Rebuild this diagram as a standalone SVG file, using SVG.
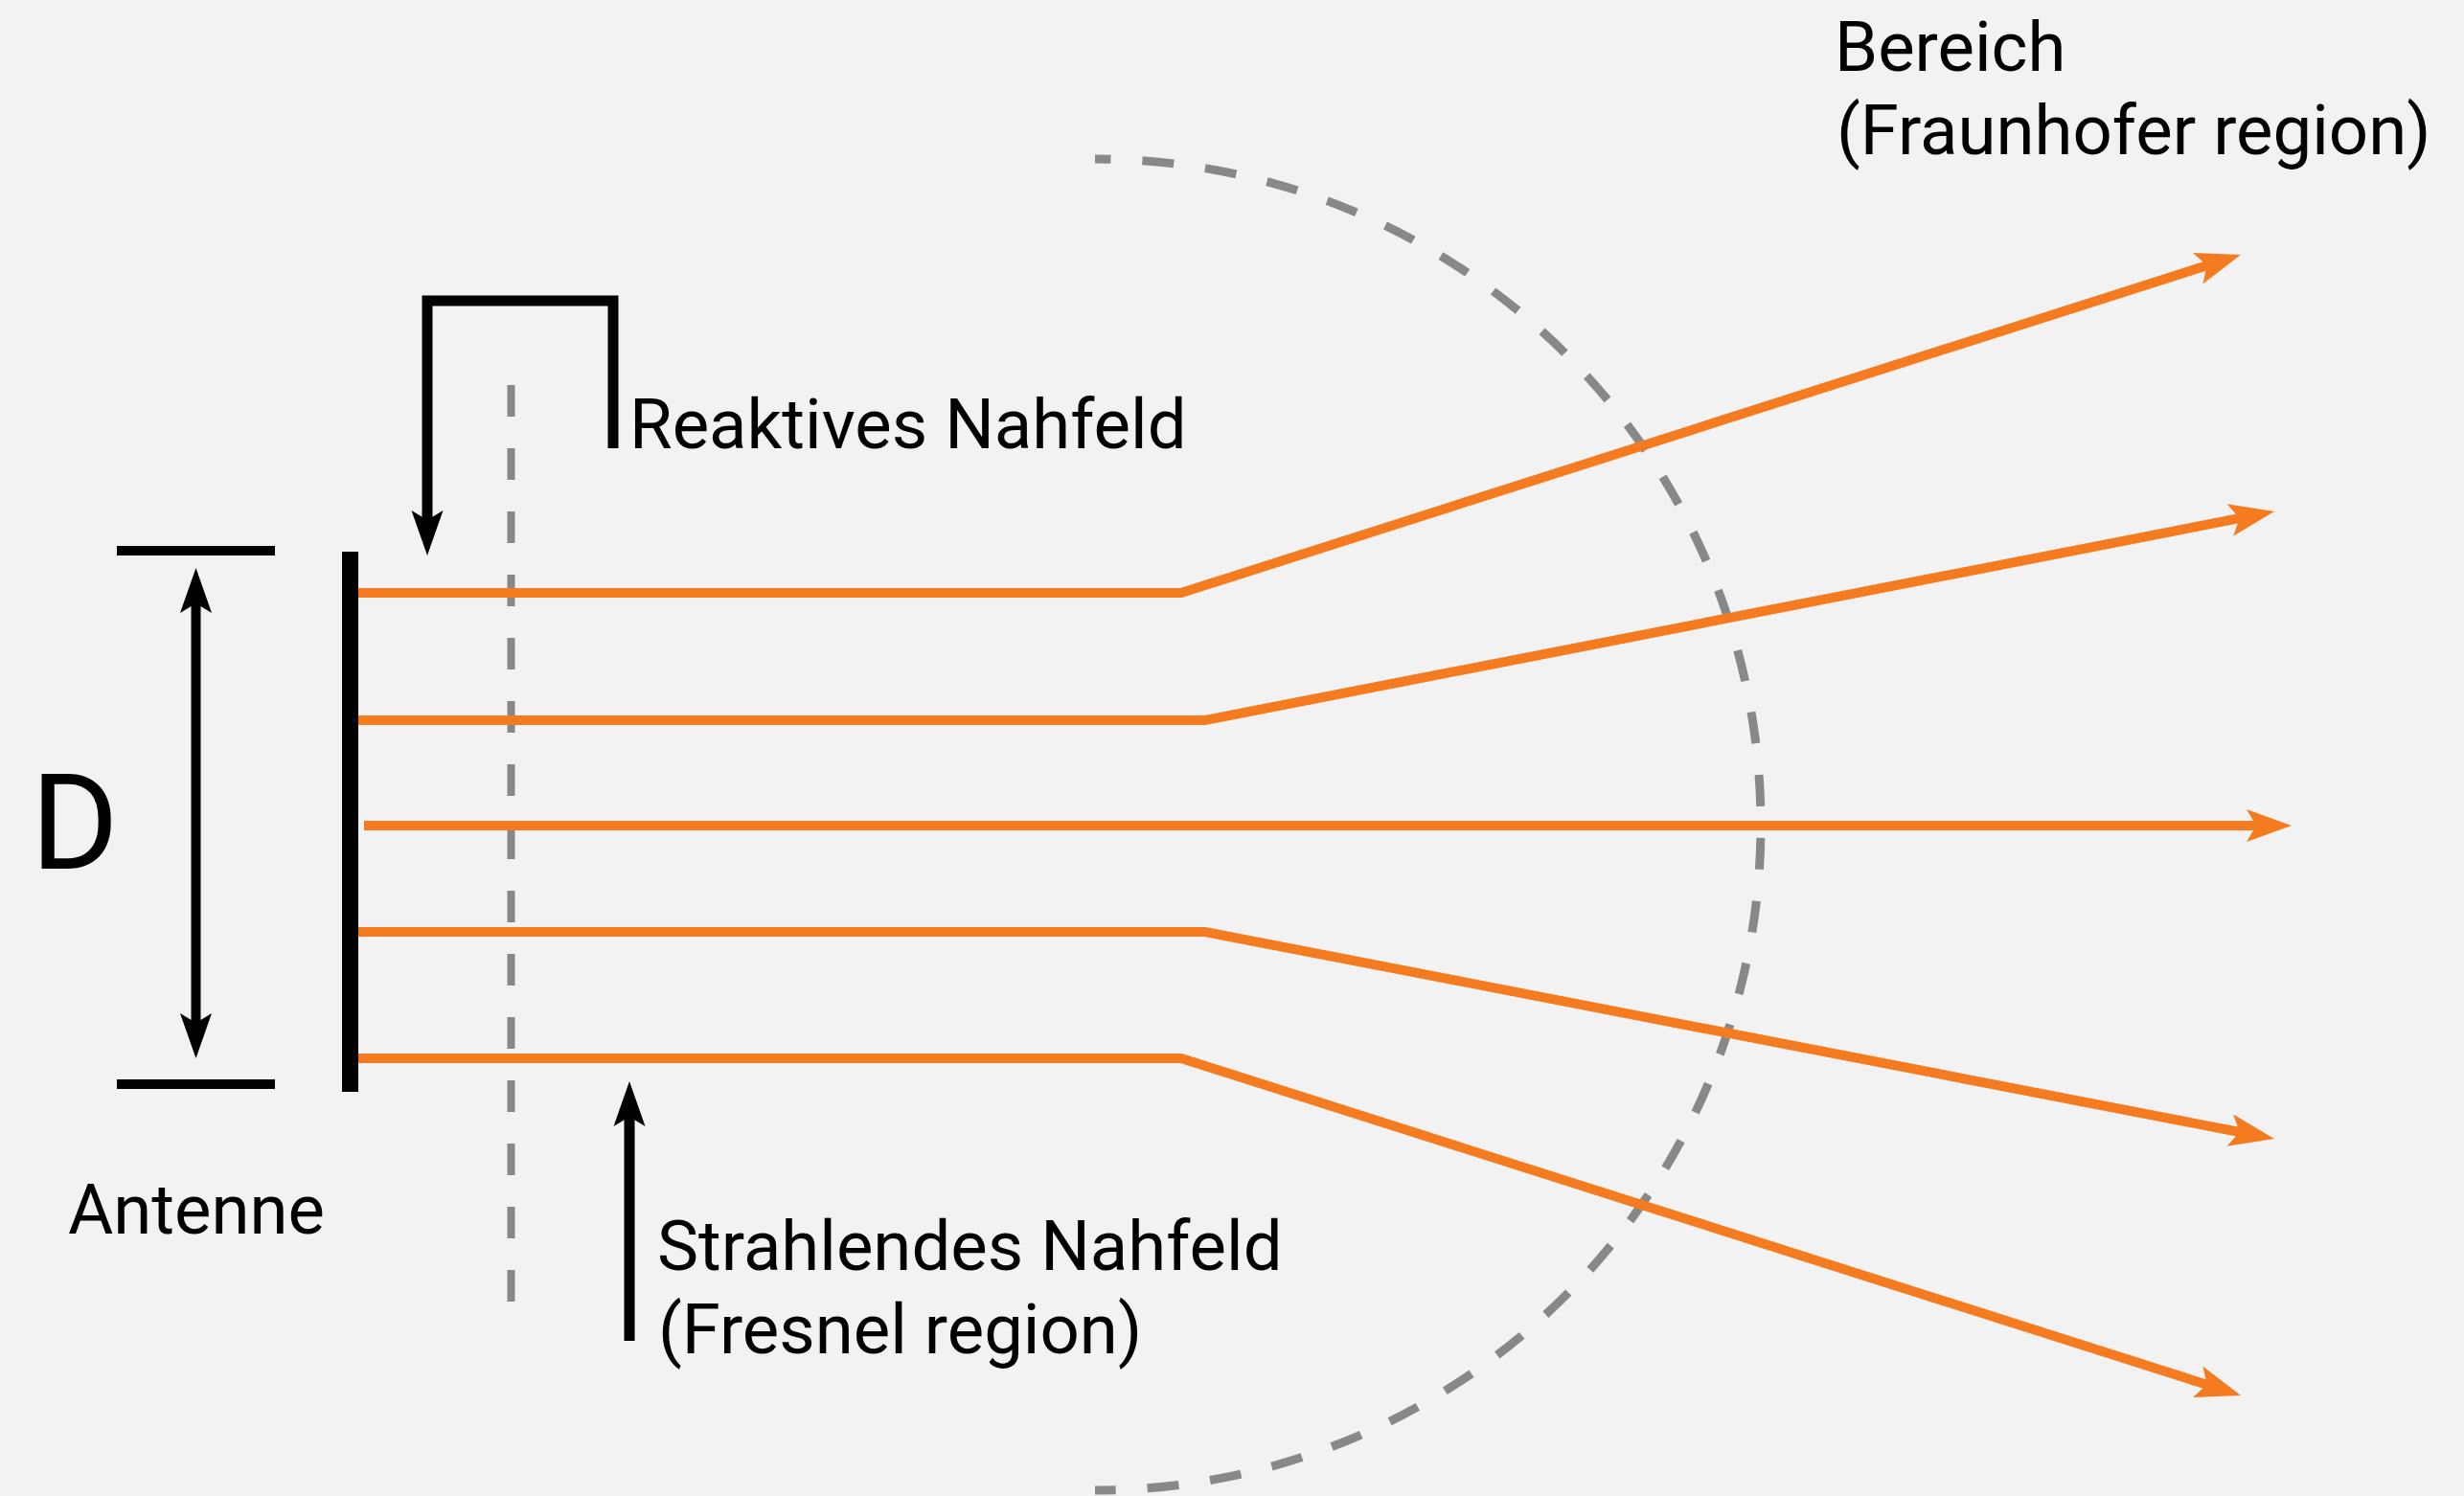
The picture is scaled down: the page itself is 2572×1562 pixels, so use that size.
<svg xmlns="http://www.w3.org/2000/svg" width="2572" height="1562" viewBox="0 0 2572 1562">
  <style>
    .lbl { font-family: Roboto, "Liberation Sans", Arial, sans-serif; font-size: 72.5px; fill: #000; }
    .ray { fill: none; stroke: #f47b20; stroke-width: 10; marker-end: url(#arrO); }
    .blk { fill: none; stroke: #000; }
  </style>
  <defs>
    <marker id="arrO" markerUnits="userSpaceOnUse" viewBox="-12 -20 52 40" refX="0" refY="0" markerWidth="52" markerHeight="40" orient="auto" overflow="visible">
      <path d="M0,0 L-10,-17 L37,0 L-10,17 Z" fill="#f47b20"/>
    </marker>
    <marker id="arrK" markerUnits="userSpaceOnUse" viewBox="-12 -20 52 40" refX="0" refY="0" markerWidth="52" markerHeight="40" orient="auto" overflow="visible">
      <path d="M0,0 L-10,-16.5 L37,0 L-10,16.5 Z" fill="#000"/>
    </marker>
    <marker id="arrKs" markerUnits="userSpaceOnUse" viewBox="-12 -20 52 40" refX="0" refY="0" markerWidth="52" markerHeight="40" orient="auto-start-reverse" overflow="visible">
      <path d="M0,0 L-10,-16.5 L37,0 L-10,16.5 Z" fill="#000"/>
    </marker>
  </defs>
  <rect x="0" y="0" width="2572" height="1562" fill="#f2f2f2"/>

  <g id="boundaries">
    <line x1="533.5" y1="402" x2="533.5" y2="1359" stroke="#888888" stroke-width="8" stroke-dasharray="33 33"/>
    <path d="M 1143 166 A 695 695 0 0 1 1143 1556" fill="none" stroke="#888888" stroke-width="9" stroke-dasharray="33 33" stroke-dashoffset="16.5"/>
  </g>

  <g id="antenna">
    <rect x="357" y="576" width="17" height="564" fill="#000"/>
    <text class="lbl" x="71" y="1288">Antenne</text>
  </g>

  <g id="dimension-D">
    <line class="blk" x1="122" y1="575" x2="287" y2="575" stroke-width="10"/>
    <line class="blk" x1="122" y1="1132" x2="287" y2="1132" stroke-width="10"/>
    <line class="blk" x1="204.5" y1="630" x2="204.5" y2="1068" stroke-width="10" marker-start="url(#arrKs)" marker-end="url(#arrKs)"/>
    <text x="32" y="907" style="font-family: Roboto, 'Liberation Sans', Arial, sans-serif; font-size: 140px; fill: #000;">D</text>
  </g>

  <g id="reactive-near-field">
    <path class="blk" d="M 640 468 L 640 314 L 446 314 L 446 543" stroke-width="11" stroke-linejoin="miter" marker-end="url(#arrK)"/>
    <text class="lbl" x="657" y="468">Reaktives Nahfeld</text>
  </g>

  <g id="radiating-near-field">
    <line class="blk" x1="657" y1="1400" x2="657" y2="1166" stroke-width="11" marker-end="url(#arrK)"/>
    <text class="lbl" x="686" y="1326">Strahlendes Nahfeld</text>
    <text class="lbl" x="687" y="1413">(Fresnel region)</text>
  </g>

  <g id="far-field">
    <text class="lbl" x="1915" y="74">Bereich</text>
    <text class="lbl" x="1917" y="161">(Fraunhofer region)</text>
  </g>

  <g id="connectors">
    <polyline class="ray" points="374,619 1233,619 2303.7,277.2"/>
    <polyline class="ray" points="374,752 1258,752 2337.7,541.1"/>
    <polyline class="ray" points="380,862 2355,862"/>
    <polyline class="ray" points="374,973 1258,973 2337.7,1182"/>
    <polyline class="ray" points="374,1105 1233,1105 2303.7,1445.8"/>
  </g>
</svg>
